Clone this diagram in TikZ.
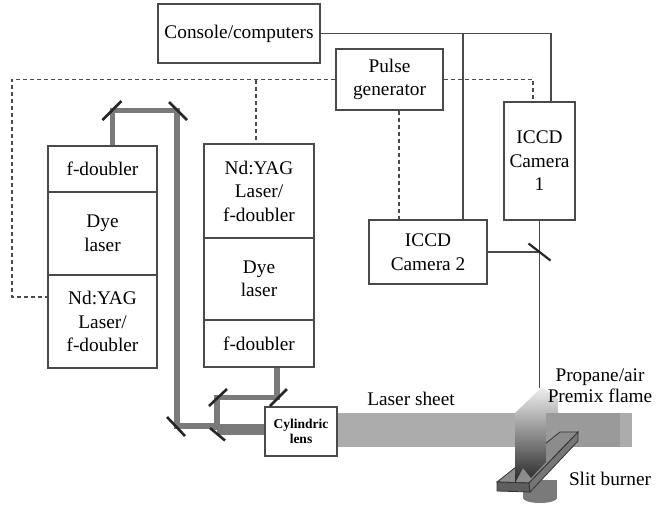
\documentclass[tikz,border=0pt]{standalone}
\usepackage{fontspec}
\setmainfont{Liberation Serif}

\definecolor{linegray}{HTML}{4A4A4A}
\definecolor{beamgray}{HTML}{7A7A7A}
\definecolor{sheetgray}{HTML}{ACACAC}
\definecolor{sheetdark}{HTML}{9A9A9A}
\definecolor{bartop}{HTML}{8C8C8C}
\definecolor{barside}{HTML}{5E5E5E}

\tikzset{
  box/.style={draw=linegray, line width=1.3pt, align=center, inner sep=0pt,
    font=\fontsize{19.3}{23.5}\selectfont},
  lab/.style={align=center, inner sep=0pt, font=\fontsize{19.3}{20.5}\selectfont},
  wire/.style={draw=linegray, line width=1.3pt},
  trig/.style={draw=linegray, line width=1.2pt, dash pattern=on 4pt off 3pt},
  beam/.style={draw=beamgray, line width=5.5pt},
  mirror/.style={draw=black!85, line width=2.6pt},
  bar/.style={draw=black!80, line width=0.8pt},
}

\begin{document}
\begin{tikzpicture}[x=1pt,y=-1pt]
  \useasboundingbox (0,0) rectangle (663,504);

  \begin{scope}[every node/.style={box}]
    \node[minimum width=162, minimum height=59] (console) at (239,33.5) {Console/computers};
    \node[minimum width=107, minimum height=61] (pulse) at (389.5,79.5) {Pulse\\generator};
    \node[minimum width=71, minimum height=118] (cam1) at (539.5,161) {ICCD\\Camera\\1};
    \node[minimum width=118, minimum height=64] (cam2) at (428,252) {ICCD\\Camera 2};

    % laser stack on the left
    \node[minimum width=109, minimum height=46] (L1) at (102.5,169) {f-doubler};
    \node[minimum width=109, minimum height=83] (L2) at (102.5,233.5) {Dye\\laser};
    \node[minimum width=109, minimum height=93] (L3) at (102.5,321.5) {Nd:YAG\\Laser/\\f-doubler};

    % laser stack in the middle
    \node[minimum width=110, minimum height=94] (M1) at (259,191) {Nd:YAG\\Laser/\\f-doubler};
    \node[minimum width=110, minimum height=82] (M2) at (259,279) {Dye\\laser};
    \node[minimum width=110, minimum height=47] (M3) at (259,343.5) {f-doubler};

    \node[minimum width=72, minimum height=49,
      font=\fontsize{13.5}{14.5}\selectfont\bfseries] (lens) at (301,431.5) {Cylindric\\lens};
  \end{scope}

  % computer and camera lines
  \coordinate (tap) at (463,33.5);
  \coordinate (cm) at (539.5,252);
  \coordinate (flametop) at (539.5,388);
  \draw[wire] (console.east) -| ([xshift=11.5]cam1.north);
  \draw[wire] (tap) -- (tap |- cam2.north);
  \draw[wire] (cam1.south) -- (flametop);
  \draw[wire] (cam2.east) -- (cm);
  \draw[mirror, line width=2.2pt] ([shift={(-11,-8.5)}]cm) -- ++(22,17);

  % trigger lines
  \coordinate (d1) at (12,297);
  \draw[trig] (pulse.west) -| (d1) -- (d1 -| L3.west);
  \draw[trig] ([xshift=-3]M1.north |- pulse.west) -- ([xshift=-3]M1.north);
  \draw[trig] (pulse.east) -| ([xshift=-6.5]cam1.north);
  \draw[trig] ([xshift=9.5]pulse.south) -- ([xshift=9.5]pulse.south |- cam2.north);

  % beam path
  \coordinate (m1) at (112.5,110.5);
  \coordinate (m2) at (177,110.5);
  \coordinate (m3) at (177,426);
  \coordinate (m4) at (217,397.5);
  \coordinate (m5) at (277,397.5);
  \coordinate (m6) at (217,426);
  \coordinate (m7) at (217,429.5);
  \draw[beam] (m1 |- L1.north) -- (m1) -- (m2) -- (m3) -- (m6);
  \draw[beam] (m5 |- M3.south) -- (m5) -- (m4) -- (m7);
  \draw[beam, line width=11pt] (m7) -- (m7 -| lens.west);

  \draw[mirror] ([shift={(-10,9.5)}]m1) -- ++(19,-19);
  \draw[mirror] ([shift={(-8,-8.5)}]m2) -- ++(18,18);
  \draw[mirror] ([shift={(-10,-9)}]m3) -- ++(18,19);
  \draw[mirror] ([shift={(-8,8.5)}]m4) -- ++(18,-17);
  \draw[mirror] ([shift={(-7,-1.5)}]m7) -- ++(15,12.5);
  \draw[mirror] ([shift={(-7,8.5)}]m5) -- ++(17,-17);

  % laser sheet
  \fill[sheetgray] (lens.east |- 0,413) rectangle (632,447);
  \node[lab] (sheet) at (411,399) {Laser sheet};

  % slit burner
  \fill[beamgray] (523,480) rectangle (557,498);
  \fill[beamgray] (540,498) ellipse [x radius=17, y radius=5];
  \filldraw[bar, fill=bartop] (497,482) -- (560,432) -- (578,432) -- (529,483) -- cycle;
  \filldraw[bar, fill=barside] (497,482) -- (529,483) -- (530,492) -- (497,491) -- cycle;
  \filldraw[bar, fill=barside!85!white] (529,483) -- (578,432) -- (578,441) -- (530,492) -- cycle;

  % flame, with the lit sheet behind it
  \shade[top color=gray!12, middle color=gray!55, bottom color=black!85]
    (515,483) -- (515,413) -- (542,387) -- (558,399) -- (558,413)
    -- (546,413) -- (546,462) -- (531,478) -- (523,468) -- cycle;
  \fill[sheetdark] (546,413) rectangle (620,447);
  \begin{scope}
    \clip (546,413) rectangle (600,447);
    \filldraw[bar, fill=bartop] (497,482) -- (560,432) -- (578,432) -- (529,483) -- cycle;
    \filldraw[bar, fill=barside!85!white] (529,483) -- (578,432) -- (578,441) -- (530,492) -- cycle;
  \end{scope}

  \node[lab] (flame) at (600,385.5) {Propane/air\\Premix flame};
  \node[lab] (burner) at (610,479) {Slit burner};
\end{tikzpicture}
\end{document}
